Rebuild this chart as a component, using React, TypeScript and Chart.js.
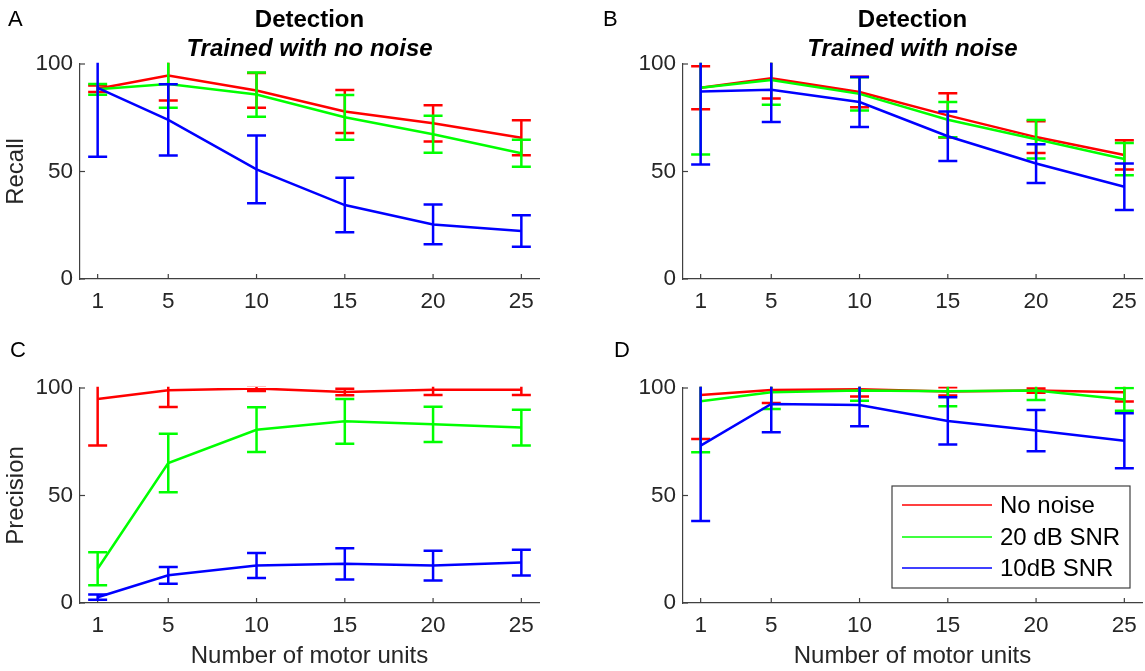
import React, { useEffect, useRef } from "react";
import { Chart, registerables } from "chart.js";

Chart.register(...registerables);

// ---------- data ----------
const xValues = [1, 5, 10, 15, 20, 25];
const xTickValues = [1, 5, 10, 15, 20, 25];
const yTickValues = [0, 50, 100];
const seriesLabels = ["No noise", "20 dB SNR", "10dB SNR"];
const seriesColors = ["#ff0000", "#00ff00", "#0000ff"];

// A: Recall, trained with no noise
const recallA_noNoise = [88.5, 94.6, 87.7, 77.9, 72.4, 65.7];
const recallA_noNoiseErr = [1.5, 11.6, 8.1, 10.0, 8.4, 8.1];
const recallA_snr20 = [88.2, 90.7, 85.8, 75.2, 67.3, 58.5];
const recallA_snr20Err = [2.5, 11.1, 10.3, 10.4, 8.6, 6.3];
const recallA_snr10 = [88.9, 74.0, 51.0, 34.4, 25.4, 22.3];
const recallA_snr10Err = [32.0, 16.6, 15.8, 12.7, 9.2, 7.3];

// B: Recall, trained with noise
const recallB_noNoise = [89.0, 93.4, 87.0, 76.1, 66.0, 57.7];
const recallB_noNoiseErr = [10.0, 9.4, 7.1, 10.3, 7.4, 6.8];
const recallB_snr20 = [88.9, 92.6, 86.1, 74.1, 65.0, 55.8];
const recallB_snr20Err = [31.0, 11.6, 7.7, 8.2, 9.0, 7.5];
const recallB_snr10 = [87.2, 88.0, 82.3, 66.4, 53.7, 42.9];
const recallB_snr10Err = [34.0, 15.0, 11.6, 11.5, 9.0, 10.8];

// C: Precision, trained with no noise
const precisionC_noNoise = [94.9, 98.9, 99.8, 98.1, 99.2, 99.2];
const precisionC_noNoiseErr = [21.6, 7.7, 1.2, 1.5, 2.5, 2.5];
const precisionC_snr20 = [15.9, 65.1, 80.6, 84.5, 83.1, 81.6];
const precisionC_snr20Err = [7.7, 13.6, 10.4, 10.4, 8.2, 8.3];
const precisionC_snr10 = [2.7, 12.9, 17.4, 18.2, 17.4, 18.8];
const precisionC_snr10Err = [1.2, 3.9, 5.8, 7.3, 6.9, 6.0];

// D: Precision, trained with noise
const precisionD_noNoise = [96.7, 99.1, 99.4, 98.4, 98.8, 98.0];
const precisionD_noNoiseErr = [20.4, 6.1, 3.3, 1.9, 1.0, 4.3];
const precisionD_snr20 = [93.8, 98.0, 98.8, 98.5, 98.8, 94.7];
const precisionD_snr20Err = [23.7, 7.8, 4.7, 7.0, 4.4, 5.3];
const precisionD_snr10 = [73.2, 92.6, 92.1, 84.7, 80.2, 75.5];
const precisionD_snr10Err = [35.1, 13.2, 9.9, 11.0, 9.6, 12.8];

// ---------- layout / style ----------
const W = 1145;
const H = 671;
const FONT = '"Liberation Sans", Arial, Helvetica, sans-serif';
const AXIS_COLOR = "#404040";
const TEXT_COLOR = "#262626";

type Panel = {
  id: string;
  letter: string;
  letterX: number;
  letterY: number;
  titles: string[];
  yTitle: string;
  xTitle: string;
  legend: boolean;
  left: number;
  right: number;
  top: number;
  bottom: number;
  padLeft: number;
  means: number[][];
  errs: number[][];
};

const panels: Panel[] = [
  {
    id: "A", letter: "A", letterX: 8, letterY: 26,
    titles: ["Detection", "Trained with no noise"],
    yTitle: "Recall", xTitle: "", legend: false,
    left: 80, right: 539, top: 64, bottom: 279, padLeft: 0,
    means: [recallA_noNoise, recallA_snr20, recallA_snr10],
    errs: [recallA_noNoiseErr, recallA_snr20Err, recallA_snr10Err],
  },
  {
    id: "B", letter: "B", letterX: 603, letterY: 26,
    titles: ["Detection", "Trained with noise"],
    yTitle: "", xTitle: "", legend: false,
    left: 683, right: 1142, top: 64, bottom: 279, padLeft: 583,
    means: [recallB_noNoise, recallB_snr20, recallB_snr10],
    errs: [recallB_noNoiseErr, recallB_snr20Err, recallB_snr10Err],
  },
  {
    id: "C", letter: "C", letterX: 10, letterY: 357,
    titles: [],
    yTitle: "Precision", xTitle: "Number of motor units", legend: false,
    left: 80, right: 539, top: 388, bottom: 603, padLeft: 0,
    means: [precisionC_noNoise, precisionC_snr20, precisionC_snr10],
    errs: [precisionC_noNoiseErr, precisionC_snr20Err, precisionC_snr10Err],
  },
  {
    id: "D", letter: "D", letterX: 614, letterY: 357,
    titles: [],
    yTitle: "", xTitle: "Number of motor units", legend: true,
    left: 683, right: 1142, top: 388, bottom: 603, padLeft: 583,
    means: [precisionD_noNoise, precisionD_snr20, precisionD_snr10],
    errs: [precisionD_noNoiseErr, precisionD_snr20Err, precisionD_snr10Err],
  },
];

// ---------- plugins ----------
const CAP = 9.5;

const errorBarPlugin = {
  id: "errorBars",
  afterDatasetDraw(chart: any, args: any) {
    const ds = chart.data.datasets[args.index];
    const errs: number[] | undefined = ds.errors;
    if (!errs) return;
    const xs = chart.scales.x;
    const ys = chart.scales.y;
    const { ctx, chartArea: a } = chart;
    ctx.save();
    ctx.beginPath();
    ctx.rect(a.left - 12, a.top - 1.3, a.right - a.left + 24, a.bottom - a.top + 2.6);
    ctx.clip();
    ctx.strokeStyle = ds.borderColor;
    ctx.lineWidth = 2.5;
    ctx.lineCap = "butt";
    ds.data.forEach((pt: any, j: number) => {
      const x = xs.getPixelForValue(pt.x);
      const yHi = ys.getPixelForValue(pt.y + errs[j]);
      const yLo = ys.getPixelForValue(pt.y - errs[j]);
      ctx.beginPath();
      ctx.moveTo(x, yHi);
      ctx.lineTo(x, yLo);
      ctx.moveTo(x - CAP, yHi);
      ctx.lineTo(x + CAP, yHi);
      ctx.moveTo(x - CAP, yLo);
      ctx.lineTo(x + CAP, yLo);
      ctx.stroke();
    });
    ctx.restore();
  },
};

const inwardTicksPlugin = {
  id: "inwardTicks",
  beforeDatasetsDraw(chart: any) {
    const { ctx, chartArea: a } = chart;
    const xs = chart.scales.x;
    const ys = chart.scales.y;
    ctx.save();
    ctx.strokeStyle = AXIS_COLOR;
    ctx.lineWidth = 1.2;
    xs.ticks.forEach((t: any) => {
      const px = xs.getPixelForValue(t.value);
      ctx.beginPath();
      ctx.moveTo(px, a.bottom);
      ctx.lineTo(px, a.bottom - 5);
      ctx.stroke();
    });
    ys.ticks.forEach((t: any) => {
      const py = ys.getPixelForValue(t.value);
      ctx.beginPath();
      ctx.moveTo(a.left, py);
      ctx.lineTo(a.left + 5, py);
      ctx.stroke();
    });
    ctx.restore();
  },
};

const panelTextPlugin = {
  id: "panelText",
  afterDraw(chart: any, _args: any, opts: any) {
    const { ctx, chartArea: a } = chart;
    ctx.save();
    ctx.fillStyle = "#000";
    ctx.textAlign = "left";
    ctx.textBaseline = "alphabetic";
    ctx.font = `22px ${FONT}`;
    ctx.fillText(opts.letter, opts.letterX, opts.letterY);
    const cx = (a.left + a.right) / 2;
    ctx.textAlign = "center";
    if (opts.titles && opts.titles.length) {
      ctx.font = `bold 24px ${FONT}`;
      ctx.fillText(opts.titles[0], cx, 27);
      if (opts.titles[1]) {
        ctx.font = `italic bold 24px ${FONT}`;
        ctx.fillText(opts.titles[1], cx, 56);
      }
    }
    if (opts.legend) {
      const bw = 238;
      const bh = 102;
      const bx = a.right - 12 - bw;
      const by = a.bottom - 15 - bh;
      ctx.fillStyle = "#fff";
      ctx.fillRect(bx, by, bw, bh);
      ctx.strokeStyle = "#404040";
      ctx.lineWidth = 1.2;
      ctx.strokeRect(bx, by, bw, bh);
      const rows = [19, 51, 82];
      chart.data.datasets.forEach((ds: any, i: number) => {
        const y = by + rows[i];
        ctx.strokeStyle = ds.borderColor;
        ctx.lineWidth = 1.5;
        ctx.beginPath();
        ctx.moveTo(bx + 10, y);
        ctx.lineTo(bx + 100, y);
        ctx.stroke();
        ctx.fillStyle = "#000";
        ctx.textAlign = "left";
        ctx.textBaseline = "middle";
        ctx.font = `24px ${FONT}`;
        ctx.fillText(ds.label, bx + 108, y + 1);
      });
    }
    ctx.restore();
  },
};

function makeConfig(p: Panel): any {
  const xAxisH = p.xTitle ? H - p.bottom : 40;
  const datasets = p.means.map((m, i) => ({
    label: seriesLabels[i],
    data: xValues.map((x, j) => ({ x, y: m[j] })),
    errors: p.errs[i],
    borderColor: seriesColors[i],
    backgroundColor: seriesColors[i],
    borderWidth: 2.5,
    pointRadius: 0,
    pointHoverRadius: 0,
    tension: 0,
    fill: false,
    order: 2 - i,
  }));
  return {
    type: "line",
    data: { datasets },
    plugins: [errorBarPlugin, inwardTicksPlugin, panelTextPlugin],
    options: {
      responsive: false,
      animation: false,
      devicePixelRatio: 1,
      events: [],
      layout: {
        padding: {
          left: p.padLeft,
          right: W - p.right,
          top: p.top,
          bottom: H - p.bottom - xAxisH,
        },
      },
      plugins: {
        legend: { display: false },
        tooltip: { enabled: false },
        title: { display: false },
        panelText: {
          letter: p.letter,
          letterX: p.letterX,
          letterY: p.letterY,
          titles: p.titles,
          legend: p.legend,
        },
      },
      scales: {
        x: {
          type: "linear",
          min: 0,
          max: 26,
          afterBuildTicks: (s: any) => {
            s.ticks = xTickValues.map((v) => ({ value: v }));
          },
          afterFit: (s: any) => {
            s.height = xAxisH;
            s.paddingLeft = 0;
            s.paddingRight = 0;
          },
          grid: { display: false, drawTicks: false },
          border: { display: true, color: AXIS_COLOR, width: 1.2 },
          ticks: {
            autoSkip: false,
            maxRotation: 0,
            padding: 9.5,
            color: TEXT_COLOR,
            font: { family: FONT, size: 22.5 },
            callback: (v: any) => String(v),
          },
          title: {
            display: !!p.xTitle,
            text: p.xTitle,
            color: TEXT_COLOR,
            font: { family: FONT, size: 24 },
            padding: { top: 0, bottom: 0 },
          },
        },
        y: {
          type: "linear",
          min: 0,
          max: 100,
          afterBuildTicks: (s: any) => {
            s.ticks = yTickValues.map((v) => ({ value: v }));
          },
          afterFit: (s: any) => {
            s.width = p.left - p.padLeft;
            s.paddingTop = 0;
            s.paddingBottom = 0;
          },
          grid: { display: false, drawTicks: false },
          border: { display: true, color: AXIS_COLOR, width: 1.2 },
          ticks: {
            padding: 7,
            color: TEXT_COLOR,
            font: { family: FONT, size: 22.5 },
            callback: (v: any) => String(v),
          },
          title: {
            display: !!p.yTitle,
            text: p.yTitle,
            color: TEXT_COLOR,
            font: { family: FONT, size: 24 },
            padding: { top: 2, bottom: 0 },
          },
        },
      },
    },
  };
}

export default function App() {
  const canvasRefs = useRef<(HTMLCanvasElement | null)[]>([]);

  useEffect(() => {
    const charts = panels.map((p, i) => new Chart(canvasRefs.current[i] as HTMLCanvasElement, makeConfig(p)));
    return () => charts.forEach((c) => c.destroy());
  }, []);

  return (
    <div
      style={{
        position: "absolute",
        left: 0,
        top: 0,
        width: W,
        height: H,
        background: "#ffffff",
        overflow: "hidden",
      }}
    >
      {panels.map((p, i) => (
        <canvas
          key={p.id}
          ref={(el) => {
            canvasRefs.current[i] = el;
          }}
          width={W}
          height={H}
          style={{ position: "absolute", left: 0, top: 0 }}
        />
      ))}
    </div>
  );
}
